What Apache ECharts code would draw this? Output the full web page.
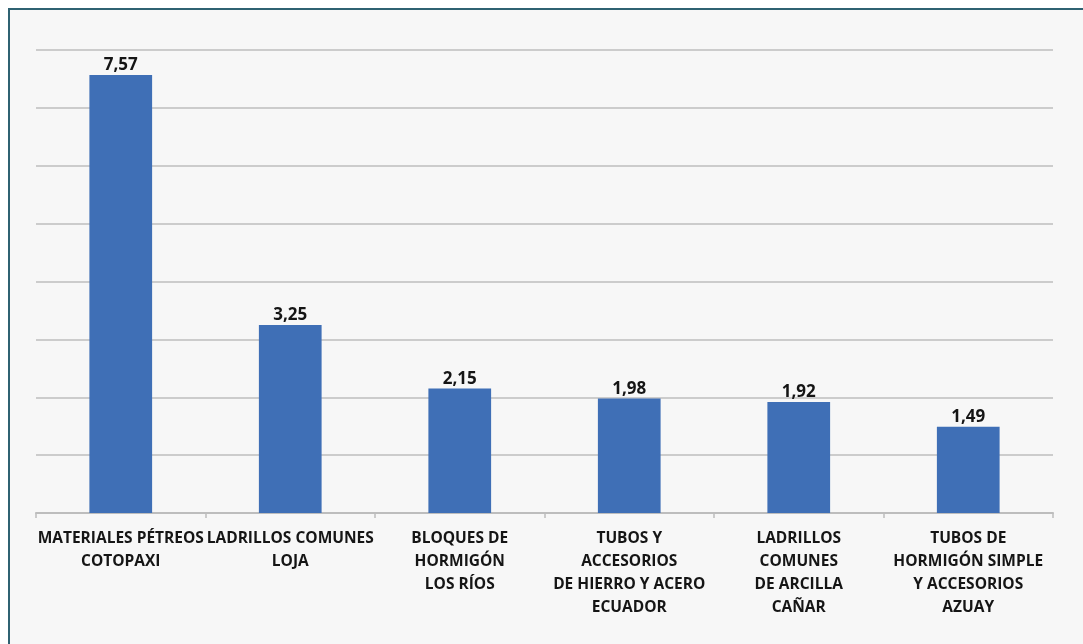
<!DOCTYPE html>
<html>
<head>
<meta charset="utf-8">
<script src="https://cdn.jsdelivr.net/npm/echarts@6/dist/echarts.min.js"></script>
<style>
html,body{margin:0;padding:0;background:#ffffff;}
#chart{width:1083px;height:644px;}
</style>
</head>
<body>
<div id="chart"></div>
<script>
var categories = [
  "MATERIALES PÉTREOS\nCOTOPAXI",
  "LADRILLOS COMUNES\nLOJA",
  "BLOQUES DE\nHORMIGÓN\nLOS RÍOS",
  "TUBOS Y\nACCESORIOS\nDE HIERRO Y ACERO\nECUADOR",
  "LADRILLOS\nCOMUNES\nDE ARCILLA\nCAÑAR",
  "TUBOS DE\nHORMIGÓN SIMPLE\nY ACCESORIOS\nAZUAY"
];
var values = [7.57, 3.25, 2.15, 1.98, 1.92, 1.49];

var chart = echarts.init(document.getElementById('chart'));
chart.setOption({
  backgroundColor: '#ffffff',
  animation: false,
  graphic: [{
    type: 'rect',
    z: -10,
    shape: {x: 9, y: 9, width: 1100, height: 700},
    style: {fill: '#f7f7f7', stroke: '#2f6272', lineWidth: 2}
  }],
  grid: {left: 36, right: 30, top: 50, bottom: 131},
  xAxis: {
    type: 'category',
    data: categories,
    axisLine: {lineStyle: {color: '#bdbdbd', width: 2}},
    axisTick: {show: true, length: 5, lineStyle: {color: '#bdbdbd', width: 1.5}},
    axisLabel: {
      interval: 0,
      margin: 14,
      color: '#151515',
      fontFamily: 'Open Sans',
      fontWeight: 'bold',
      fontSize: 15.5,
      lineHeight: 23,
      align: 'center'
    }
  },
  yAxis: {
    type: 'value',
    min: 0,
    max: 8,
    interval: 1,
    axisLabel: {show: false},
    axisLine: {show: false},
    axisTick: {show: false},
    splitLine: {lineStyle: {color: '#cccccc', width: 2}}
  },
  series: [{
    type: 'bar',
    data: values,
    barWidth: '37%',
    itemStyle: {color: '#3f6fb6'},
    label: {
      show: true,
      position: 'top',
      distance: 1,
      color: '#151515',
      fontFamily: 'Open Sans',
      fontWeight: 'bold',
      fontSize: 17,
      formatter: function (p) { return p.value.toFixed(2).replace('.', ','); }
    }
  }]
});
</script>
</body>
</html>
